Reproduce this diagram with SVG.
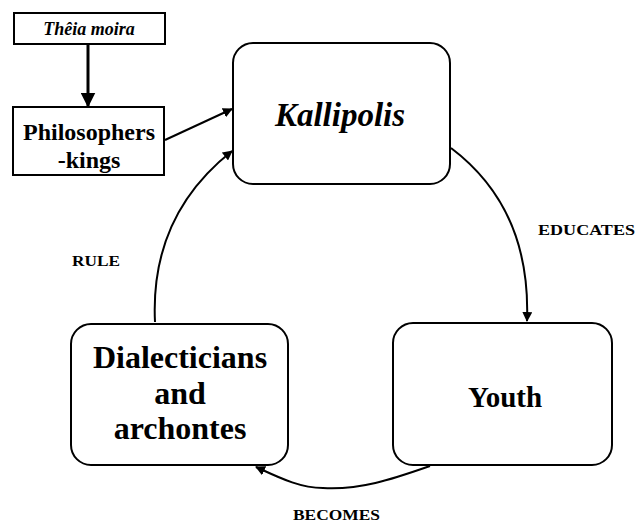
<svg xmlns="http://www.w3.org/2000/svg" width="635" height="524" viewBox="0 0 635 524">
<style>
.box{fill:#fff;stroke:#000;stroke-width:2}
.t{font-family:"Liberation Serif","Times New Roman",serif;font-weight:bold;fill:#000;text-anchor:middle}
.lbl{font-family:"Liberation Serif","Times New Roman",serif;font-weight:bold;fill:#000;font-size:14px}
.c{fill:none;stroke:#000;stroke-width:2}
</style>
<defs>
<marker id="ah" viewBox="0 0 10 10" refX="9" refY="5" markerWidth="5" markerHeight="5" orient="auto" markerUnits="strokeWidth">
<path d="M0,0 L10,5 L0,10 z" fill="#000"/>
</marker>
</defs>
<rect width="635" height="524" fill="#fff"/>
<g id="connectors">
<line class="c" x1="88" y1="44" x2="88" y2="106" marker-end="url(#ah)" style="stroke-width:3"/>
<line class="c" x1="165" y1="140" x2="232" y2="109" marker-end="url(#ah)"/>
<path class="c" d="M451,148 C500,185 530,240 527,321" marker-end="url(#ah)"/>
<path class="c" d="M430,466 C390,480 360,490 323,488 C300,488 280,478 256,467" marker-end="url(#ah)"/>
<path class="c" d="M155,322 C152,260 170,200 232,151" marker-end="url(#ah)"/>
</g>
<g id="theia">
<rect class="box" x="14" y="13" width="151" height="31"/>
<text class="t" x="89" y="35" font-size="18" font-style="italic">Thêia moira</text>
</g>
<g id="philosophers">
<rect class="box" x="13" y="107" width="151" height="68"/>
<text class="t" x="89" y="140" font-size="24">Philosophers</text>
<text class="t" x="89" y="168" font-size="24">-kings</text>
</g>
<g id="kallipolis">
<rect class="box" x="233" y="43" width="217" height="141" rx="20"/>
<text class="t" x="340" y="126" font-size="33" font-style="italic">Kallipolis</text>
</g>
<g id="youth">
<rect class="box" x="393" y="323" width="219" height="142" rx="20"/>
<text class="t" x="505" y="407" font-size="29">Youth</text>
</g>
<g id="dialecticians">
<rect class="box" x="71" y="324" width="217" height="141" rx="20"/>
<text class="t" x="180" y="368" font-size="32">Dialecticians</text>
<text class="t" x="180" y="404" font-size="32">and</text>
<text class="t" x="180" y="439" font-size="32">archontes</text>
</g>
<g id="labels">
<text class="lbl" x="538" y="235" textLength="97" lengthAdjust="spacingAndGlyphs">EDUCATES</text>
<text class="lbl" x="72" y="266" textLength="48" lengthAdjust="spacingAndGlyphs">RULE</text>
<text class="lbl" x="293" y="520" textLength="87" lengthAdjust="spacingAndGlyphs">BECOMES</text>
</g>
</svg>
